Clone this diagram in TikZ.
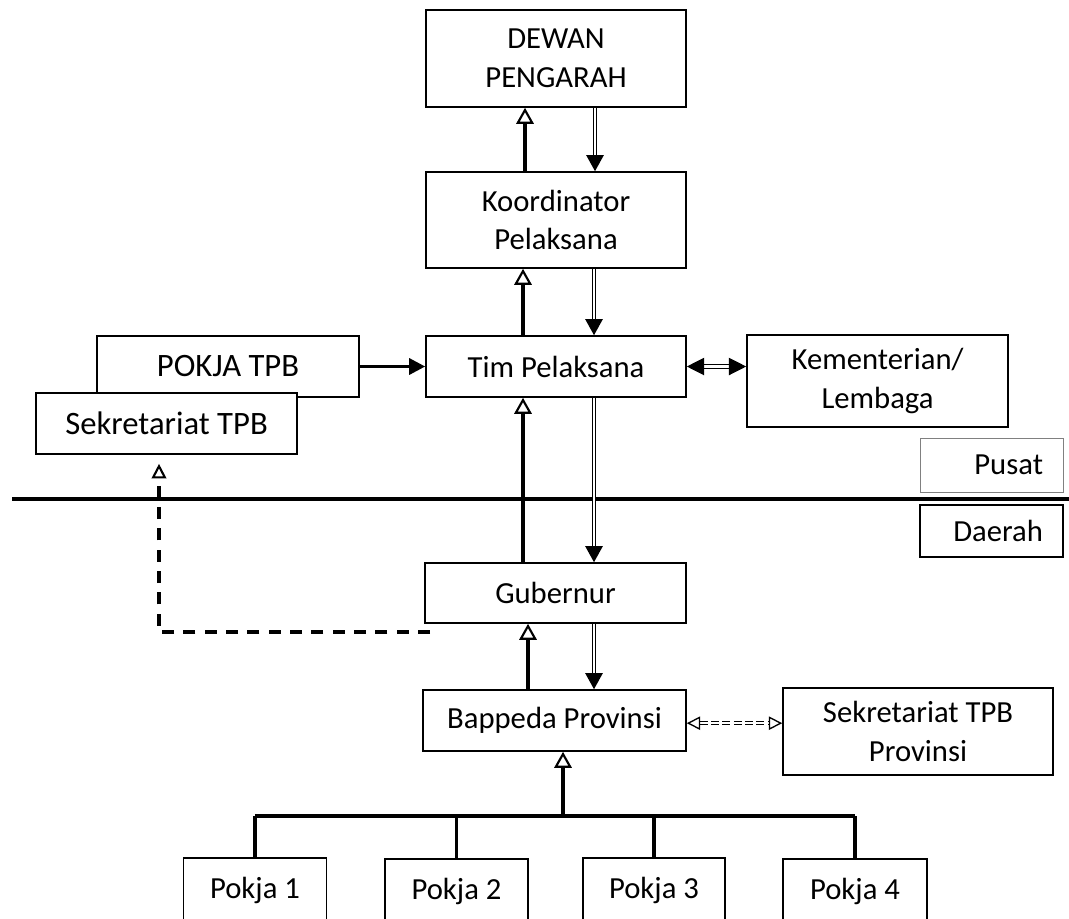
\documentclass[tikz,border=0pt]{standalone}
\usepackage{fontspec}
\setmainfont{Carlito}
\usetikzlibrary{arrows.meta}
\begin{document}
\begin{tikzpicture}[x=0.75pt,y=-0.75pt,
  box/.style={draw,line width=1.2pt,fill=white,inner sep=0pt,align=center,
    font=\fontsize{23}{29}\selectfont},
  bigbox/.style={box,font=\fontsize{24.5}{29}\selectfont},
  sidebox/.style={box,text width=77.25pt,inner xsep=15pt,align=right,minimum width=107.25pt},
  uparrow/.style={line width=2.8pt,-{Triangle[open,length=12pt,width=13pt,line width=1.6pt]}},
  downarrow/.style={double,double distance=1.6pt,line width=0.9pt,-{Triangle[length=12pt,width=13pt]}},
  twoway/.style={double,double distance=1.6pt,line width=0.9pt,{Triangle[length=13pt,width=13pt]}-{Triangle[length=13pt,width=13pt]}},
  dashtwoway/.style={double,double distance=1.6pt,line width=0.9pt,dash pattern=on 6pt off 2.5pt,
    {Triangle[open,length=10pt,width=10pt,line width=1pt]}-{Triangle[open,length=10pt,width=10pt,line width=1pt]}},
  solidarrow/.style={line width=2.4pt,-{Triangle[length=12pt,width=12pt]}},
  barline/.style={line width=2.5pt},
  dashline/.style={line width=3pt,dash pattern=on 9pt off 7pt,
    -{Triangle[open,length=11pt,width=11pt,line width=1.6pt]}}
]
\clip (0,0) rectangle (1069,918);
\fill[white] (0,0) rectangle (1069,918);

% boxes
\node[box,minimum width=195pt,minimum height=72.75pt] (dewan) at (556,58.5) {DEWAN\\PENGARAH};
\node[box,minimum width=195pt,minimum height=72pt] (koord) at (556,220) {Koordinator\\Pelaksana};
\node[box,minimum width=195pt,minimum height=45.75pt] (tim) at (556,366.5) {Tim Pelaksana};
\node[bigbox,minimum width=196.5pt,minimum height=45.75pt] (pokja) at (228,366.5) {POKJA TPB};
\node[bigbox,minimum width=195.75pt,minimum height=45.75pt] (sek) at (166.5,423.5) {Sekretariat TPB};
\node[box,minimum width=195.75pt,minimum height=69pt] (kem) at (877.5,381) {Kementerian/\\Lembaga};
\node[sidebox,draw=gray,line width=0.6pt,minimum height=40.5pt] (pusat) at (991.5,465) {Pusat};
\node[sidebox,minimum height=39pt] (daerah) at (991.5,531) {Daerah};
\node[box,minimum width=195.75pt,minimum height=45pt] (gub) at (555.5,593) {Gubernur};
\node[box,minimum width=197.25pt,minimum height=45.75pt] (bap) at (554.5,720.5) {Bappeda Provinsi};
\node[box,minimum width=202.5pt,minimum height=65pt] (sekprov) at (918,731.5) {Sekretariat TPB\\Provinsi};
\node[box,minimum width=107.25pt,minimum height=48pt] (p1) at (255,890) {Pokja 1};
\node[box,minimum width=107.25pt,minimum height=48pt] (p2) at (456.5,891) {Pokja 2};
\node[box,minimum width=106.5pt,minimum height=48pt] (p3) at (654,890) {Pokja 3};
\node[box,minimum width=108pt,minimum height=48pt] (p4) at (855,891) {Pokja 4};

% divider
\coordinate (divL) at (12,499);
\coordinate (divR) at (1069,499);
\draw[line width=3.4pt] (divL) -- (divR);

% column coordinates
\coordinate (cu1) at (525,0);
\coordinate (cd1) at (595,0);
\coordinate (cu2) at (523,0);
\coordinate (cd2) at (594,0);
\coordinate (cu3) at (528,0);
\coordinate (cd3) at (594,0);

\draw[uparrow] (cu1 |- koord.north) -- (cu1 |- dewan.south);
\draw[downarrow] (cd1 |- dewan.south) -- (cd1 |- koord.north);
\draw[uparrow] (cu2 |- tim.north) -- (cu2 |- koord.south);
\draw[downarrow] (cd2 |- koord.south) -- (cd2 |- tim.north);
\draw[uparrow] (cu2 |- gub.north) -- (cu2 |- tim.south);
\draw[downarrow] (cd2 |- tim.south) -- (cd2 |- gub.north);
\draw[uparrow] (cu3 |- bap.north) -- (cu3 |- gub.south);
\draw[downarrow] (cd3 |- gub.south) -- (cd3 |- bap.north);

\draw[solidarrow] (pokja.east) -- (tim.west);
\draw[twoway] (tim.east) -- (kem.west |- tim.east);
\draw[dashtwoway] ([yshift=-2pt]bap.east) -- ([yshift=-2pt]sekprov.west |- bap.east);

% pokja tree
\coordinate (bary) at (0,816);
\coordinate (cb) at (563,816);
\draw[barline] (p1.north |- bary) -- (p4.north |- bary);
\draw[barline] (p1.north |- bary) -- (p1.north);
\draw[barline] (p2.north |- bary) -- (p2.north);
\draw[barline] (p3.north |- bary) -- (p3.north);
\draw[barline] (p4.north |- bary) -- (p4.north);
\draw[uparrow] (cb) -- (cb |- bap.south);

% dashed link Gubernur -> Sekretariat TPB
\coordinate (ds) at (430,632);
\coordinate (dc) at (159,632);
\draw[dashline,shorten >=6.75pt] (ds) -- (dc) -- (dc |- sek.south);
\end{tikzpicture}
\end{document}
